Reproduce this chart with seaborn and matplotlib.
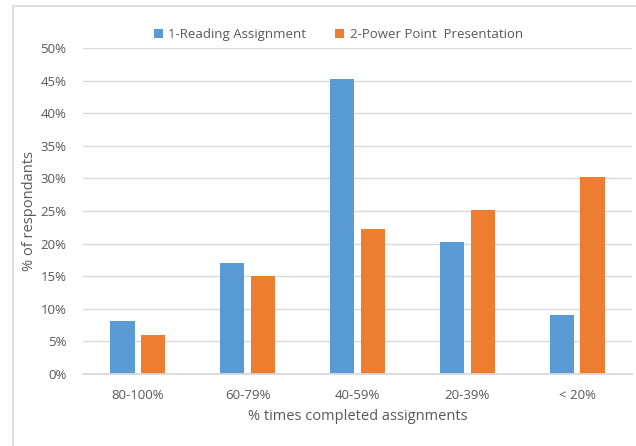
import matplotlib
matplotlib.use("Agg")
import matplotlib.pyplot as plt
import pandas as pd
import seaborn as sns
from matplotlib.patches import Rectangle
from matplotlib.ticker import PercentFormatter

categories = ["80-100%", "60-79%", "40-59%", "20-39%", "< 20%"]
series_names = ["1-Reading Assignment", "2-Power Point  Presentation"]
reading = [8.1, 17.1, 45.3, 20.2, 9.0]
powerpoint = [6.0, 15.1, 22.2, 25.2, 30.2]
colors = ["#5B9BD5", "#ED7D31"]

df = pd.DataFrame(
    {
        "category": categories * 2,
        "series": [series_names[0]] * 5 + [series_names[1]] * 5,
        "value": reading + powerpoint,
    }
)

sns.set_theme(style="white")
plt.rcParams["font.family"] = ["Open Sans", "DejaVu Sans"]
text_color = "#595959"

fig = plt.figure(figsize=(6.36, 4.46), dpi=100)
ax = fig.add_axes([83 / 636, 1 - 374 / 446, (632 - 83) / 636, (374 - 48) / 446])

sns.barplot(data=df, x="category", y="value", hue="series", palette=colors,
            width=0.56, ax=ax, legend=True, saturation=1, edgecolor="none")

# narrow bars, keep their centres
for bar in ax.patches:
    w = bar.get_width()
    if w == 0:
        continue
    c = bar.get_x() + w / 2
    bar.set_width(0.22)
    bar.set_x(c - 0.11)

ax.set_ylim(0, 50)
ax.set_xlim(-0.5, 4.5)
ax.set_yticks(range(0, 51, 5))
ax.yaxis.set_major_formatter(PercentFormatter(decimals=0))
ax.grid(axis="y", color="#D9D9D9", linewidth=1)
ax.set_axisbelow(True)
for side in ["top", "right", "left"]:
    ax.spines[side].set_visible(False)
ax.spines["bottom"].set_color("#D9D9D9")
ax.tick_params(axis="both", colors=text_color, labelsize=9.5, length=0)
ax.tick_params(axis="x", pad=11)
ax.tick_params(axis="y", pad=12)

ax.set_xlabel("% times completed assignments", color=text_color, fontsize=10.5, labelpad=5)
ax.set_ylabel("% of respondants", color=text_color, fontsize=10.5, labelpad=2)

ax.legend(loc="lower center", bbox_to_anchor=(0.465, 0.985), ncol=2, frameon=False,
          fontsize=9.5, handlelength=0.7, handleheight=0.7, handletextpad=0.4,
          columnspacing=2.2, labelcolor=text_color)

fig.patches.append(Rectangle((13 / 636, -0.05), 1.0, 1 - 6 / 446 + 0.05,
                             transform=fig.transFigure, fill=False,
                             edgecolor="#D9D9D9", linewidth=1.2))

fig.savefig("out.png", dpi=100)
